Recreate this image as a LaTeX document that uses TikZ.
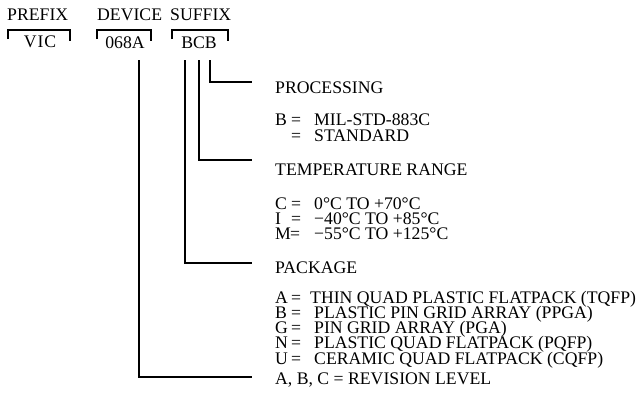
\documentclass[tikz,border=0pt]{standalone}
\usepackage{fontspec}
\setmainfont{Liberation Serif}
\begin{document}
\begin{tikzpicture}[x=1pt,y=-1pt,
  txt/.style={anchor=base west, inner sep=0pt, font=\fontsize{17.7}{18}\selectfont},
  ctxt/.style={anchor=base, inner sep=0pt, font=\fontsize{17.7}{18}\selectfont},
  conn/.style={line width=1.8pt},
  brk/.style={line width=1.6pt}]
\useasboundingbox (0,0) rectangle (642,408);
\newcommand{\lbl}[2]{\makebox[16pt][l]{#1}\makebox[23pt][l]{=}#2}
% headers
\node[txt] (hp) at (7,20) {PREFIX};
\node[txt] (hd) at (97,20) {DEVICE};
\node[txt] (hs) at (170,20) {SUFFIX};
\node[ctxt] (vp) at (40,47) {V\kern1pt I\kern1pt C};
\node[ctxt] (vd) at (125,48) {068A};
\node[ctxt] (vs) at (199,48) {BCB};
% brackets
\draw[brk] (8,39) -- (8,30) -- (70,30) -- (70,41);
\draw[brk] (97,39) -- (97,30) -- (151,30) -- (151,41);
\draw[brk] (172,39) -- (172,30) -- (228,30) -- (228,41);
% descriptions
\node[txt] (proc) at (275,93) {PROCESSING};
\node[txt] (p1) at (275,125) {\lbl{B}{MIL-STD-883C}};
\node[txt] (p2) at (275,141) {\lbl{}{STANDARD}};
\node[txt] (temp) at (275,175) {TEMPERATURE RANGE};
\node[txt] (t1) at (275,209) {\lbl{C}{0°C TO +70°C}};
\node[txt] (t2) at (275,224) {\lbl{I}{−40°C TO +85°C}};
\node[txt] (t3) at (275,239) {\makebox[16pt][l]{M}\makebox[23pt][l]{\hspace{-1pt}=}−55°C TO +125°C};
\node[txt] (pack) at (275,273) {PACKAGE};
\node[txt] (k1) at (275,303) {\makebox[16pt][l]{A}\makebox[19pt][l]{=}THIN QUAD PLASTIC FLATPACK (TQFP)};
\node[txt] (k2) at (275,318) {\lbl{B}{PLASTIC PIN GRID ARRAY (PPGA)}};
\node[txt] (k3) at (275,333) {\lbl{G}{PIN GRID ARRAY (PGA)}};
\node[txt] (k4) at (275,348) {\lbl{N}{PLASTIC QUAD FLATPACK (PQFP)}};
\node[txt] (k5) at (275,364) {\lbl{U}{CERAMIC QUAD FLATPACK (CQFP)}};
\node[txt] (rev) at (275,384) {A, B, C = REVISION LEVEL};
% connector coordinates
\coordinate (tproc) at (210,60);
\coordinate (eproc) at (252,82);
\coordinate (ttemp) at (199,60);
\coordinate (etemp) at (252,160);
\coordinate (tpack) at (185,60);
\coordinate (epack) at (252,263);
\coordinate (trev) at (139,60);
\coordinate (erev) at (252,377);
\draw[conn] (tproc) |- (eproc);
\draw[conn] (ttemp) |- (etemp);
\draw[conn] (tpack) |- (epack);
\draw[conn] (trev) |- (erev);
\end{tikzpicture}
\end{document}
